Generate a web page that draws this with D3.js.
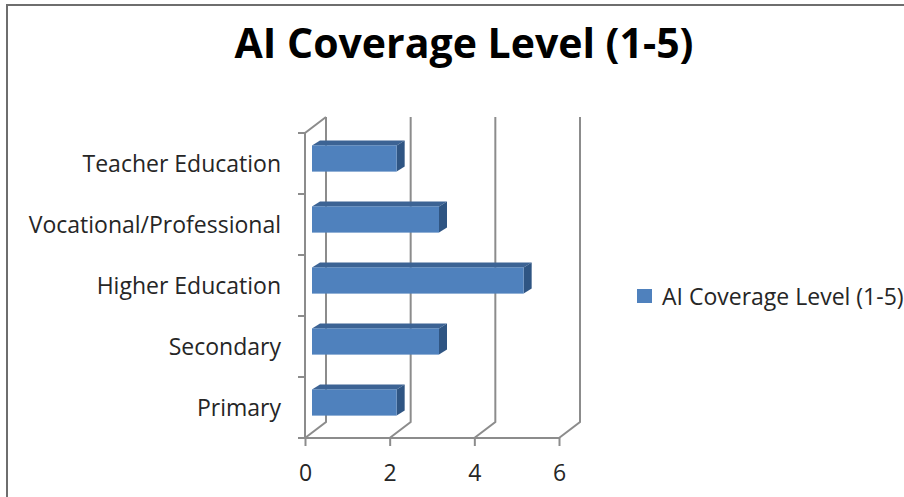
<!DOCTYPE html>
<html>
<head>
<meta charset="utf-8">
<script src="https://cdn.jsdelivr.net/npm/d3@7"></script>
<style>
  body { margin: 0; background: #fff; }
  text { font-family: "Open Sans", Lato, sans-serif; fill: #262626; }
</style>
</head>
<body>
<div id="chart"></div>
<script>
// data
var categories = ["Teacher Education", "Vocational/Professional", "Higher Education", "Secondary", "Primary"];
var coverage = [2, 3, 5, 3, 2];
var xTicks = [0, 2, 4, 6];
var seriesName = "AI Coverage Level (1-5)";

var svgWidth = 904;
var svgHeight = 497;

// front plane of the 3d box
var plot = { left: 305, right: 559, top: 133, bottom: 438 };
var depth = { dx: 21, dy: -16 };   // back wall offset
var barShift = { dx: 7, dy: -5 };  // bar front face offset
var barDepth = { dx: 8, dy: -5 };

var svg = d3.select("#chart")
    .append("svg")
    .attr("width", svgWidth)
    .attr("height", svgHeight);

// outer frame
svg.append("rect")
    .attr("x", 7)
    .attr("y", 5)
    .attr("width", 920)
    .attr("height", 520)
    .attr("fill", "none")
    .attr("stroke", "#6e6e6e")
    .attr("stroke-width", 2);

svg.append("text")
    .attr("x", 464)
    .attr("y", 58)
    .attr("text-anchor", "middle")
    .style("font-size", "41px")
    .style("font-weight", "bold")
    .style("fill", "#000")
    .text(seriesName);

var xScale = d3.scaleLinear()
    .domain([0, 6])
    .range([plot.left, plot.right]);

var yScale = d3.scaleBand()
    .domain(categories)
    .range([plot.top, plot.bottom])
    .paddingInner(0.57)
    .paddingOuter(0.285);

var grid = svg.append("g")
    .attr("stroke", "#8c8c8c")
    .attr("stroke-width", 2)
    .attr("fill", "none");

// back wall gridlines + floor diagonals
xTicks.forEach(function(t) {
    var x = xScale(t);
    grid.append("path")
        .attr("d", `M${x},${plot.bottom} L${x + depth.dx},${plot.bottom + depth.dy} L${x + depth.dx},${plot.top + depth.dy}`);
});

// left wall
grid.append("path")
    .attr("d", `M${plot.left},${plot.bottom} L${plot.left},${plot.top} L${plot.left + depth.dx},${plot.top + depth.dy}`);
// floor front edge
grid.append("line")
    .attr("x1", plot.left).attr("x2", plot.right)
    .attr("y1", plot.bottom).attr("y2", plot.bottom);

// ticks on the category axis
var bandEdges = categories.map(function(c, i) { return plot.top + i * (plot.bottom - plot.top) / categories.length; });
bandEdges.push(plot.bottom);
bandEdges.forEach(function(y) {
    grid.append("line")
        .attr("x1", plot.left - 7).attr("x2", plot.left)
        .attr("y1", y).attr("y2", y);
});

// x axis ticks & labels
var xAxis = d3.axisBottom(xScale)
    .tickValues(xTicks)
    .tickSize(8)
    .tickPadding(19)
    .tickFormat(d3.format("d"));

var xAxisG = svg.append("g")
    .attr("transform", `translate(0,${plot.bottom})`)
    .call(xAxis);
xAxisG.select(".domain").remove();
xAxisG.selectAll("line").attr("stroke", "#8c8c8c").attr("stroke-width", 2);
xAxisG.selectAll("text").style("font-size", "23px").style("fill", "#262626").attr("font-family", null);

// category labels
var yAxis = d3.axisLeft(yScale).tickSize(0).tickPadding(24);
var yAxisG = svg.append("g")
    .attr("transform", `translate(${plot.left},1)`)
    .call(yAxis);
yAxisG.select(".domain").remove();
yAxisG.selectAll("text").style("font-size", "23px").style("fill", "#262626").attr("font-family", null);

// 3d bars
var bars = svg.selectAll(".bar")
    .data(categories)
    .enter()
    .append("g")
    .attr("class", "bar");

bars.each(function(c, i) {
    var g = d3.select(this);
    var x0 = xScale(0) + barShift.dx;
    var x1 = xScale(coverage[i]) + barShift.dx;
    var y0 = yScale(c) + barShift.dy;
    var h = yScale.bandwidth();
    var dx = barDepth.dx, dy = barDepth.dy;

    // top face
    g.append("path")
        .attr("d", `M${x0},${y0} L${x0 + dx},${y0 + dy} L${x1 + dx},${y0 + dy} L${x1},${y0} Z`)
        .attr("fill", "#3c6394");
    // end face
    g.append("path")
        .attr("d", `M${x1},${y0} L${x1 + dx},${y0 + dy} L${x1 + dx},${y0 + h + dy} L${x1},${y0 + h} Z`)
        .attr("fill", "#2f5583");
    // front face
    g.append("rect")
        .attr("x", x0)
        .attr("y", y0)
        .attr("width", x1 - x0)
        .attr("height", h)
        .attr("fill", "#4f81bd");
});

// legend
var legend = svg.append("g")
    .attr("transform", "translate(637,289)");
legend.append("rect")
    .attr("width", 15)
    .attr("height", 14)
    .attr("fill", "#4f81bd");
legend.append("text")
    .attr("x", 25)
    .attr("y", 16)
    .style("font-size", "23px")
    .text(seriesName);
</script>
</body>
</html>
